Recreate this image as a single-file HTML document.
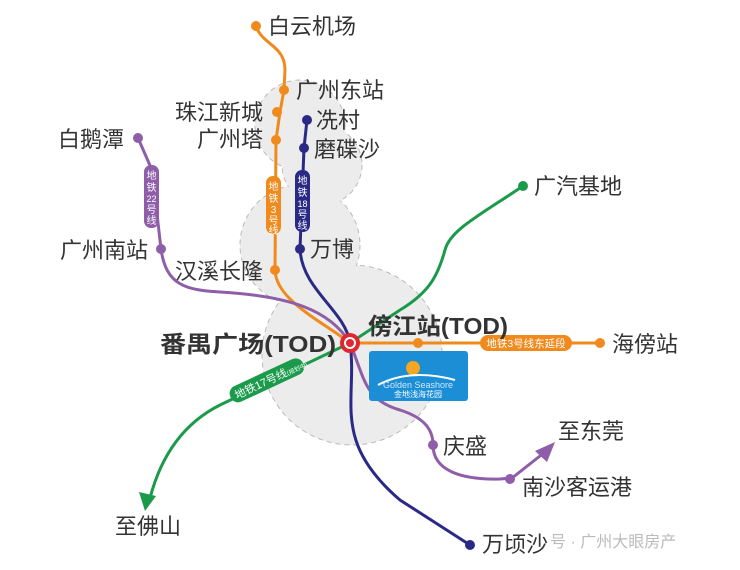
<!DOCTYPE html>
<html><head><meta charset="utf-8"><style>
html,body{margin:0;padding:0;background:#fff;}
svg{display:block;}
text{font-family:"Liberation Sans","Noto Sans CJK SC",sans-serif;fill:#333;}
</style></head><body>
<svg width="740" height="570" viewBox="0 0 740 570" xmlns="http://www.w3.org/2000/svg">
<g fill="#ececec" stroke="#bbb" stroke-dasharray="5,4" stroke-width="1">
<circle cx="352" cy="355" r="90"/>
<circle cx="300" cy="245" r="60"/>
<circle cx="300" cy="125" r="45"/>
<circle cx="322" cy="165" r="40"/>
</g>
<g fill="#ececec">
<circle cx="352" cy="355" r="89"/>
<circle cx="300" cy="245" r="59"/>
<circle cx="300" cy="125" r="44"/>
<circle cx="322" cy="165" r="39"/>
</g>
<g fill="none" stroke-width="3">
<path d="M256 26 C262 45 285 45 285 70 L284 90 L280 112 L276 140 L275 270 C276 300 320 320 350 343" stroke="#f08a1c"/>
<path d="M350 343 L600 343" stroke="#f08a1c"/>
<path d="M307 120 L304 148 L300 249 C302 290 345 310 350 343 C358 400 330 440 400 500 L470 545" stroke="#2a2a86"/>
<path d="M138 138 L152 170 L161 249 C166 285 185 290 220 292 C290 296 330 310 350 343" stroke="#8e5ea8"/>
<path d="M350 343 C365 380 365 400 400 410 C425 418 433 430 433 445 C433 470 460 480 500 479 L512 478 L545 452" stroke="#8e5ea8"/>
<path d="M523 186 C480 215 450 230 445 250 C438 275 430 292 400 310 L350 343 L220 405 C180 425 160 460 150 498" stroke="#1a9a4a"/>
</g>
<polygon points="555,442 547,462 535,451" fill="#8e5ea8"/>
<polygon points="145,511 139,492 156,496" fill="#1a9a4a"/>
<g fill="#f08a1c"><circle cx="256" cy="26" r="5"/><circle cx="284" cy="90" r="5"/><circle cx="277" cy="112" r="5"/><circle cx="276" cy="140" r="5"/><circle cx="275" cy="270" r="5"/><circle cx="418" cy="343" r="5"/><circle cx="600" cy="343" r="5"/></g>
<g fill="#2a2a86"><circle cx="307" cy="120" r="5"/><circle cx="304" cy="148" r="5"/><circle cx="300" cy="249" r="5"/><circle cx="470" cy="545" r="5"/></g>
<g fill="#8e5ea8"><circle cx="138" cy="138" r="5"/><circle cx="161" cy="249" r="5"/><circle cx="433" cy="445" r="5"/><circle cx="510" cy="479" r="5"/></g>
<circle cx="523" cy="186" r="5" fill="#1a9a4a"/>
<!-- pills -->
<rect x="266" y="176" width="15" height="58" rx="7" fill="#f08a1c"/>
<g font-size="10" text-anchor="middle" style="fill:#fff">
<text x="273.5" y="190" style="fill:#fff">地</text><text x="273.5" y="202" style="fill:#fff">铁</text><text x="273.5" y="213" style="fill:#fff">3</text><text x="273.5" y="224" style="fill:#fff">号</text><text x="273.5" y="234" style="fill:#fff">线</text>
</g>
<rect x="295" y="170" width="15" height="62" rx="7" fill="#2a2a86"/>
<g font-size="10" text-anchor="middle">
<text x="302.5" y="184" style="fill:#fff">地</text><text x="302.5" y="196" style="fill:#fff">铁</text><text x="302.5" y="207" style="fill:#fff" font-size="9">18</text><text x="302.5" y="218" style="fill:#fff">号</text><text x="302.5" y="229" style="fill:#fff">线</text>
</g>
<rect x="144" y="165" width="15" height="63" rx="7" fill="#8e5ea8"/>
<g font-size="10" text-anchor="middle">
<text x="151.5" y="179" style="fill:#fff">地</text><text x="151.5" y="191" style="fill:#fff">铁</text><text x="151.5" y="202" style="fill:#fff" font-size="9">22</text><text x="151.5" y="213" style="fill:#fff">号</text><text x="151.5" y="224" style="fill:#fff">线</text>
</g>
<rect x="480" y="335" width="92" height="16" rx="8" fill="#f08a1c"/>
<text x="526" y="347" font-size="10.5" text-anchor="middle" style="fill:#fff">地铁3号线东延段</text>
<g transform="translate(258,385) rotate(-25)">
<rect x="-30" y="-9" width="80" height="17" rx="8" fill="#1a9a4a"/>
<text x="-25" y="4" font-size="11" style="fill:#fff">地铁17号线<tspan font-size="6" style="fill:#fff">(规划中)</tspan></text>
</g>
<rect x="369" y="351" width="99" height="50" rx="3" fill="#1b8ed6"/>
<circle cx="413" cy="368" r="7" fill="#f5a623"/>
<path d="M378 385 Q410 368 455 380" stroke="#fff" fill="none" stroke-width="2"/>
<text x="418" y="388" font-size="9" text-anchor="middle" style="fill:#cfe8fb">Golden Seashore</text>
<text x="418" y="397" font-size="8" text-anchor="middle" style="fill:#fff">金地浅海花园</text>
<circle cx="350" cy="343" r="10" fill="#e0262e"/>
<circle cx="350" cy="343" r="5" fill="none" stroke="#fff" stroke-width="2"/>
<g font-size="22">
<text x="268" y="34">白云机场</text>
<text x="296" y="98">广州东站</text>
<text x="175" y="120">珠江新城</text>
<text x="197" y="147">广州塔</text>
<text x="316" y="128">冼村</text>
<text x="314" y="157">磨碟沙</text>
<text x="58" y="147">白鹅潭</text>
<text x="60" y="258">广州南站</text>
<text x="310" y="257">万博</text>
<text x="175" y="279">汉溪长隆</text>
<text x="534" y="194">广汽基地</text>
<text x="612" y="352">海傍站</text>
<text x="443" y="454">庆盛</text>
<text x="558" y="439">至东莞</text>
<text x="522" y="495">南沙客运港</text>
<text x="115" y="534">至佛山</text>
<text x="482" y="552">万顷沙</text>
</g>
<text x="160" y="352" font-size="23" font-weight="bold" textLength="176" lengthAdjust="spacingAndGlyphs">番禺广场(TOD)</text>
<text x="368" y="334" font-size="23" font-weight="bold" textLength="140" lengthAdjust="spacingAndGlyphs">傍江站(TOD)</text>
<text x="550" y="547" font-size="16" style="fill:#bbb">号 · 广州大眼房产</text>
</svg>
</body></html>
